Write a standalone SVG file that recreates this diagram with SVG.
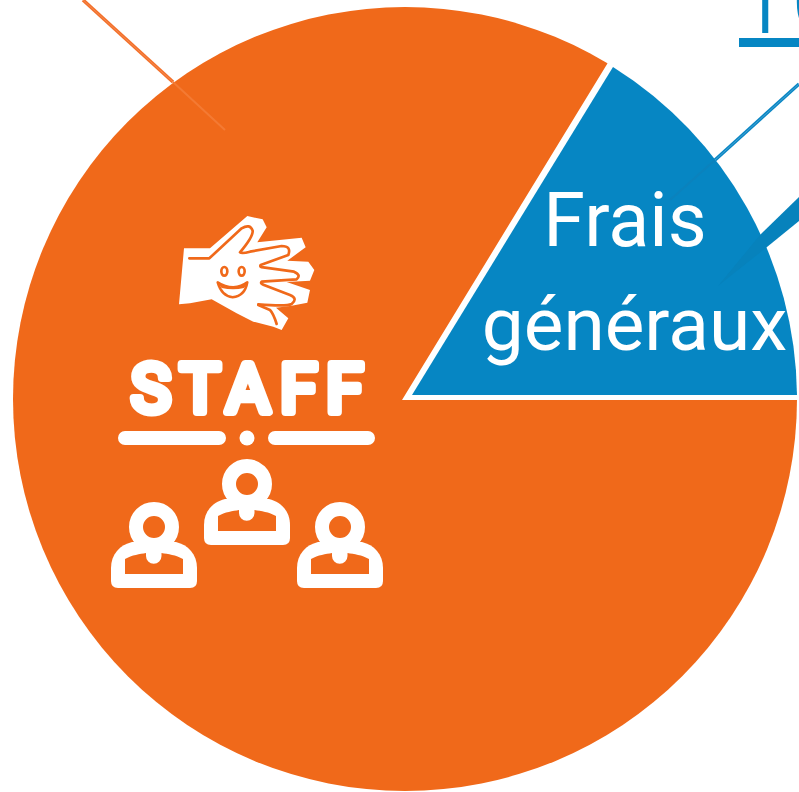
<svg xmlns="http://www.w3.org/2000/svg" width="799" height="792" viewBox="0 0 799 792">
<style>
.lbl{font-family:Roboto,"Liberation Sans",sans-serif;fill:#fff}
.staff{font-family:Roboto,"Liberation Sans",sans-serif;font-weight:400;font-size:67px;fill:#fff;stroke:#fff;stroke-width:8;stroke-linejoin:round;stroke-linecap:round}
.in{fill:none;stroke:#f0691a;stroke-width:8;stroke-linejoin:round;stroke-linecap:round}
</style>
<defs>
<g id="person">
<path fill="#fff" d="M-22,15C-34,18-43,27-43,41V54Q-43,61-36,61H36Q43,61 43,54V41C43,27 34,18 22,15Z"/>
<path fill="#f0691a" d="M-29,47V32C-22,28-14,27-8,26V29A7.5,7.5 0 0 0 7.5,29V26C14,27 22,28 29,32V47Z"/>
<circle r="18" fill="#f0691a" stroke="#fff" stroke-width="14"/>
</g>
</defs>
<rect width="799" height="792" fill="#fff"/>
<g id="slice-staff">
<circle cx="405" cy="399" r="392" fill="#f0691a"/>
<polygon points="402,400 612,56 612,0 799,0 799,400" fill="#fff"/>
</g>
<g id="slice-frais">
<path d="M412,395L613,67A392,392 0 0 1 797,395Z" fill="#0686c3"/>
<text class="lbl" x="625" y="246" text-anchor="middle" font-size="75.500">Frais</text>
<text class="lbl" x="634.500" y="350" text-anchor="middle" font-size="74.800">généraux</text>
</g>
<g id="connectors">
<line x1="83" y1="0" x2="173" y2="82" stroke="#f3702a" stroke-width="3.500"/>
<line x1="83" y1="0" x2="173" y2="82" stroke="#fff" stroke-opacity=".3" stroke-width=".6"/>
<line x1="173" y1="82" x2="225" y2="130" stroke="#f47a33" stroke-width="2"/>
<line x1="799" y1="84" x2="715" y2="160" stroke="#0a86c4" stroke-width="3.500"/>
<line x1="799" y1="84" x2="715" y2="160" stroke="#fff" stroke-opacity=".4" stroke-width=".6"/>
<line x1="715" y1="160" x2="670" y2="200" stroke="#0b82bd" stroke-width="2"/>
<polygon points="799,197 760,235 718,286 767,247 799,221" fill="#0782bc"/>
</g>
<g id="top-label">
<text x="733" y="33" font-family="Roboto,'Liberation Sans',sans-serif" font-weight="300" font-size="104" fill="#0686c3">10</text>
<rect x="739" y="38" width="60" height="9" fill="#0686c3"/>
</g>
<g id="staff-icon">
<g id="hand" transform="translate(170 210) scale(.3333)">
<path fill="#fff" d="M42,115L120,115L232,18L278,28L290,52L262,97L395,83L407,112L352,152L415,155L433,180L420,212L350,216L420,240L412,278L365,287L318,293L355,325L335,360L310,350L250,335L200,310L125,268L60,280L27,283Z"/>
<path class="in" d="M58,145L118,145L215,55Q240,40 248,62Q250,80 210,127Q215,132 240,125L335,108Q365,108 355,135L272,165Q268,172 280,172L372,185Q395,195 380,208L275,215Q270,220 280,224L360,255Q385,265 365,282Q350,290 265,283"/>
<path class="in" d="M265,285L300,300Q310,310 320,342"/>
<ellipse class="in" cx="163" cy="184" rx="9" ry="13"/>
<ellipse class="in" cx="215" cy="184" rx="9" ry="13"/>
<path d="M143,217Q165,232 190,232Q215,230 232,217Q225,258 188,262Q155,258 143,217Z" fill="#fff" stroke="#f0691a" stroke-width="7.500" stroke-linejoin="round"/>
<path d="M143,217Q165,232 190,232Q215,230 232,217Q228,228 222,234Q190,242 155,234Q147,226 143,217Z" fill="#f0691a"/>
</g>
<text class="staff" y="412" x="131 180 226 280 326">STAFF</text>
<path d="M125,438H219M275,438H368" stroke="#fff" stroke-width="14" stroke-linecap="round" fill="none"/>
<circle cx="247" cy="438" r="7.5" fill="#fff"/>
<use href="#person" x="247" y="484"/>
<use href="#person" x="154" y="527"/>
<use href="#person" x="340" y="527"/>
</g>
</svg>
